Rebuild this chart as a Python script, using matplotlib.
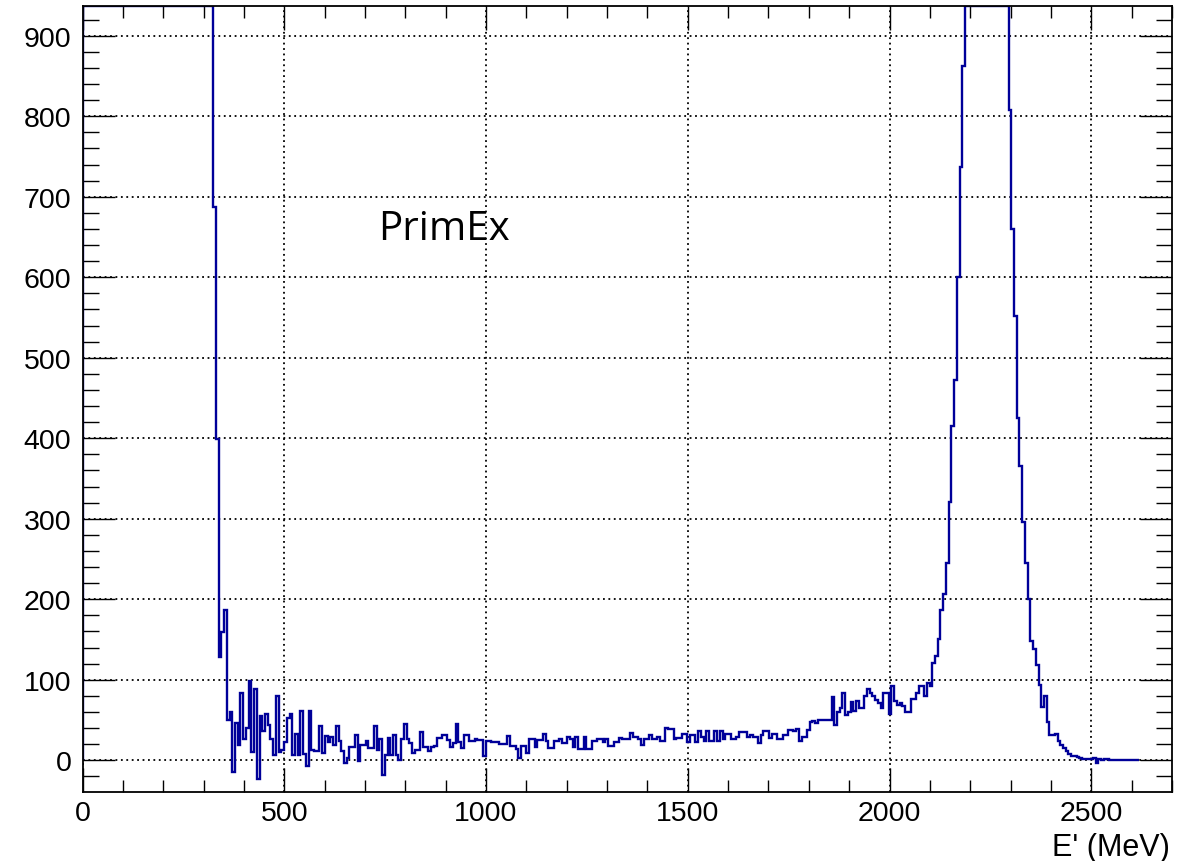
import numpy as np
import matplotlib
matplotlib.use('Agg')
import matplotlib.pyplot as plt
from matplotlib.ticker import MultipleLocator

# histogramme E' (MeV), 6.75 MeV par canal
bin_width = 6.75
low_region = [1500] * 48            # hors echelle (au-dessus du cadre)
low_region += [687, 399, 128, 159, 186, 50, 60, -15, 46, 19, 84, 26, 40, 99, 10, 89,
               -23, 55, 36, 58, 44, 26, 7, 80, 10, 13, 22, 53, 58, 7, 32, 7,
               61, 8, -7, 61, 13, 11, 11, 43, 9, 30]
mid_region = [22, 29, 19, 43, 24, 11, -3, 3, 17, 17, 31, -1, 19, 19, 24, 15,
              15, 42, 13, 26, -18, 7, 28, 7, 31, 7, 0, 26, 45, 26, 21, 9,
              13, 13, 35, 17, 17, 11, 17, 18, 27, 27, 31, 31, 25, 16, 21, 45,
              22, 15, 31, 31, 24, 24, 26, 25, 25, 5, 24, 24, 22, 22, 22, 20,
              20, 20, 30, 18, 18, 14, 3, 18, 18, 9, 26, 26, 17, 25, 25, 32,
              24, 15, 15, 24, 24, 26, 21, 21, 29, 26, 17, 29, 14, 14, 29, 14,
              14, 24, 24, 26, 26, 22, 26, 18, 18, 22, 22, 28, 26, 26, 26, 34,
              29, 29, 26, 19, 26, 26, 31, 26, 26, 29, 24, 24, 40, 39, 39, 26,
              27, 27, 32, 32, 22, 31, 31, 22, 36]
rise_region = [29, 24, 36, 24, 24, 36, 24, 36, 26, 32, 32, 26, 26, 29, 35, 35,
               35, 29, 31, 29, 29, 21, 31, 36, 36, 27, 32, 32, 26, 26, 31, 31,
               37, 37, 36, 39, 24, 29, 29, 38, 47, 49, 46, 50, 50, 50, 50, 50,
               79, 44, 60, 65, 84, 56, 60, 72, 61, 73, 65, 65, 80, 88, 84, 80,
               75, 71, 65, 84, 84, 57, 92, 73, 68, 71, 67, 60, 60, 76, 76, 83,
               92, 92, 80, 96, 92]
peak_region = [121, 129, 151, 186, 207, 245, 321, 415, 472, 600, 737, 863,
               1000, 1150, 1300, 1450, 1550, 1600, 1600, 1550, 1450, 1350, 1250,
               1150, 1050, 1000, 970, 950,
               808, 660, 552, 425, 366, 296, 245, 200, 148, 138, 118, 93,
               66, 80, 47, 31, 31, 33, 24, 19, 15, 11, 8, 5, 5, 4, 3, 2,
               1.5, 1, 1.5, 3, -3, 1, 0.5, 1.5, 1, 0, 0, 0, 0, 0, 0, 0,
               0, 0, 0, 0]
counts = np.array(low_region + mid_region + rise_region + peak_region, dtype=float)
edges = np.arange(len(counts) + 1) * bin_width

x_max = 2700
y_min, y_max = -39.5, 937

plt.rcParams['font.family'] = ['Liberation Sans', 'DejaVu Sans']

fig = plt.figure(figsize=(11.97, 8.62), dpi=100)
ax = fig.add_axes([82.5 / 1197, 1 - 793 / 862, (1172 - 82.5) / 1197, (793 - 7) / 862])

# ROOT coupe les canaux au bord du cadre
ax.stairs(np.minimum(counts, y_max), edges, baseline=0, color='#000099', lw=1.7, zorder=2)

ax.set_xlim(0, x_max)
ax.set_ylim(y_min, y_max)

ax.xaxis.set_major_locator(MultipleLocator(500))
ax.xaxis.set_minor_locator(MultipleLocator(100))
ax.yaxis.set_major_locator(MultipleLocator(100))
ax.yaxis.set_minor_locator(MultipleLocator(20))

ax.grid(True, which='major', color='black', linestyle=(0, (1, 2.0)), lw=1.3)
ax.set_axisbelow(True)

ax.tick_params(which='both', direction='in', top=True, right=True, width=1.0,
               labelsize=20.5, colors='black')
ax.tick_params(axis='x', which='major', length=17, pad=6)
ax.tick_params(axis='x', which='minor', length=8.5)
ax.tick_params(axis='y', which='major', length=23, pad=8)
ax.tick_params(axis='y', which='minor', length=11.5)
for s in ax.spines.values():
    s.set_linewidth(1.3)
    s.set_zorder(3)

ax.text(733, 647, 'PrimEx', fontsize=29, family='Open Sans', ha='left', va='baseline')
fig.text(1170 / 1197, 1 - 856 / 862, "E' (MeV)", fontsize=22, ha='right', va='baseline')

fig.savefig('out.png', dpi=100)
